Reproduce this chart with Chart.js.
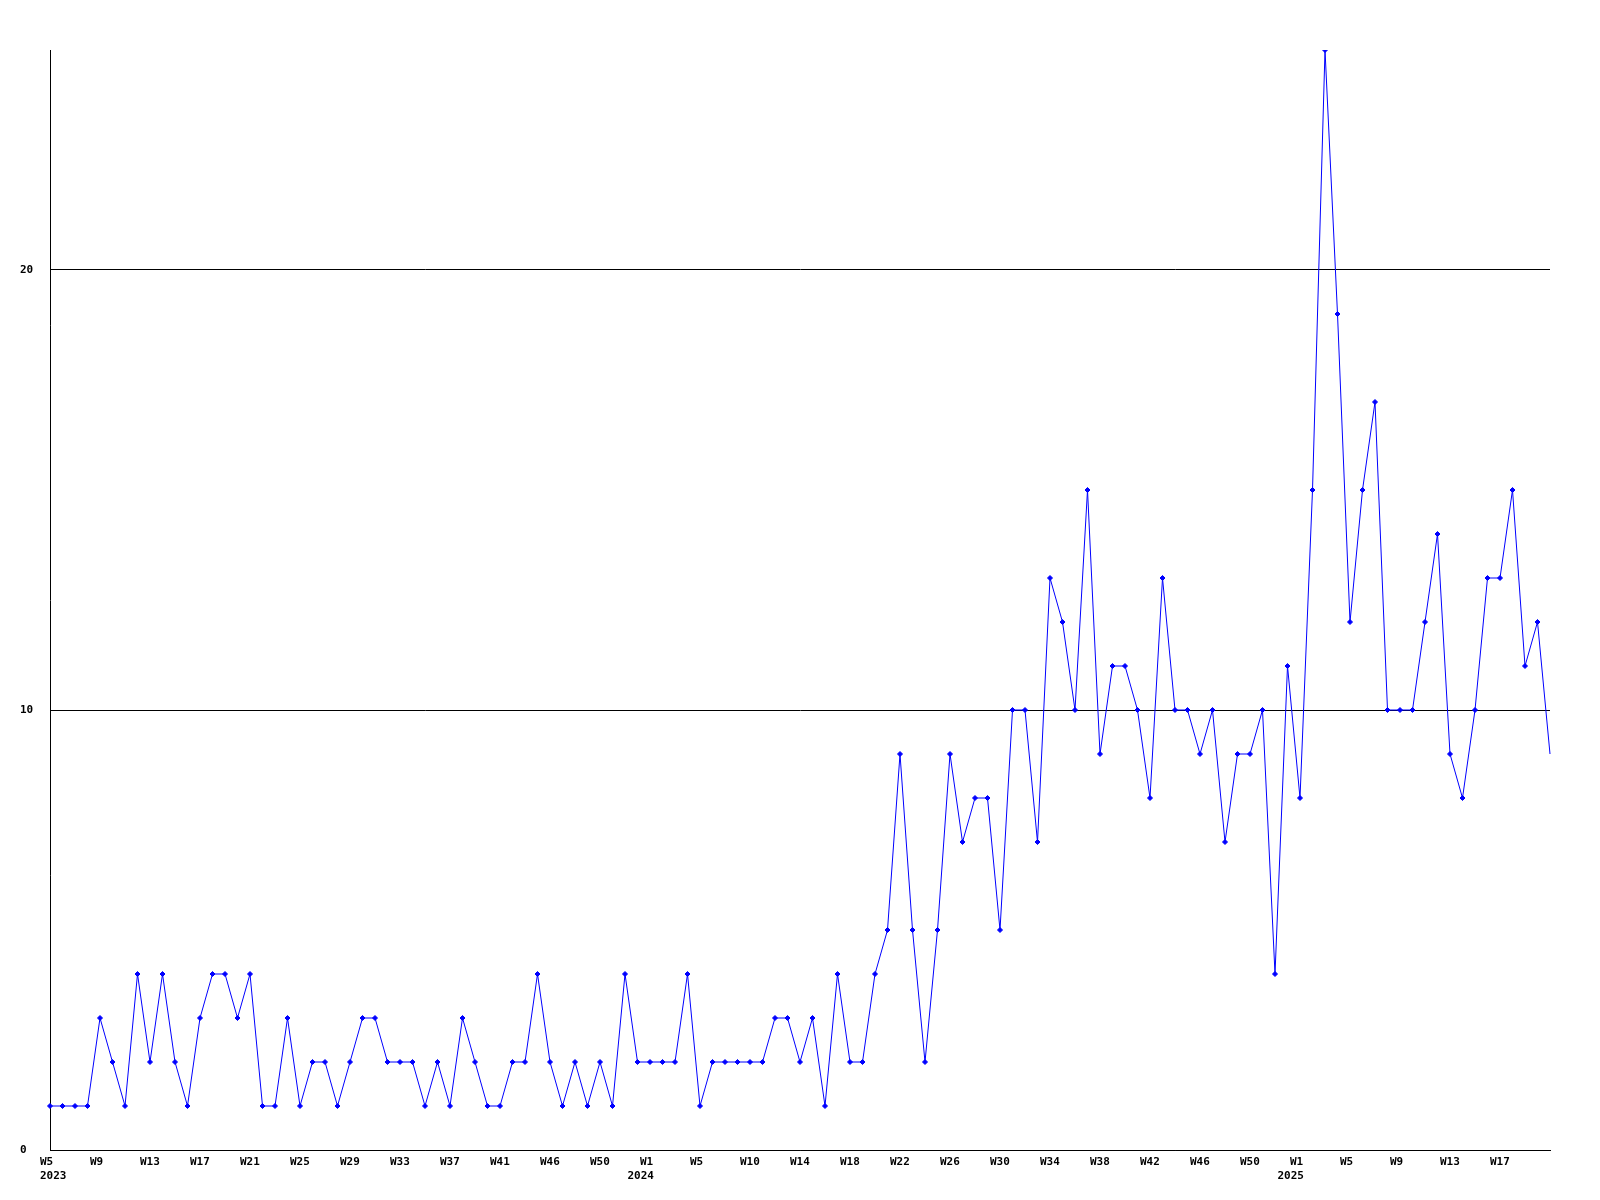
<!DOCTYPE html>
<html>
<head>
<meta charset="utf-8">
<script src="https://cdn.jsdelivr.net/npm/chart.js@4/dist/chart.umd.min.js"></script>
<style>
  html, body { margin: 0; padding: 0; background: #ffffff; }
  #wrap { width: 1600px; height: 1200px; }
</style>
</head>
<body>
<div id="wrap"><canvas id="c" width="1600" height="1200"></canvas></div>
<script>
// Weekly counts, W5 2023 .. W21 2025 (one value per week)
const values = [
  1, 1, 1, 1, 3, 2, 1, 4, 2, 4,
  2, 1, 3, 4, 4, 3, 4, 1, 1, 3,
  1, 2, 2, 1, 2, 3, 3, 2, 2, 2,
  1, 2, 1, 3, 2, 1, 1, 2, 2, 4,
  2, 1, 2, 1, 2, 1, 4, 2, 2, 2,
  2, 4, 1, 2, 2, 2, 2, 2, 3, 3,
  2, 3, 1, 4, 2, 2, 4, 5, 9, 5,
  2, 5, 9, 7, 8, 8, 5, 10, 10, 7,
  13, 12, 10, 15, 9, 11, 11, 10, 8, 13,
  10, 10, 9, 10, 7, 9, 9, 10, 4, 11,
  8, 15, 25, 19, 12, 15, 17, 10, 10, 10,
  12, 14, 9, 8, 10, 13, 13, 15, 11, 12,
  9
];

// Week tick labels, one every fourth week
const weekTickLabels = [
  'W5', 'W9', 'W13', 'W17', 'W21', 'W25', 'W29', 'W33', 'W37', 'W41',
  'W46', 'W50', 'W1', 'W5', 'W10', 'W14', 'W18', 'W22', 'W26', 'W30',
  'W34', 'W38', 'W42', 'W46', 'W50', 'W1', 'W5', 'W9', 'W13', 'W17'
];

// Year tick labels and the week index they sit under
const yearTickLabels = ['2023', '2024', '2025'];
const yearTickIndex = [0, 47, 99];

// Y axis tick values
const yTickValues = [0, 10, 20];
const yMax = 25;

const categories = values.map((_, i) => String(i));

const FONT = { family: "'DejaVu Sans Mono', monospace", size: 11, weight: 'bold', lineHeight: 1.2 };

new Chart(document.getElementById('c'), {
  type: 'line',
  data: {
    labels: categories,
    datasets: [{
      data: values,
      borderColor: '#0000ff',
      backgroundColor: '#0000ff',
      borderWidth: 1,
      tension: 0,
      fill: false,
      pointStyle: 'rectRot',
      pointRadius: (ctx) => (ctx.dataIndex === values.length - 1 ? 0 : 2.5),
      pointBorderWidth: 1,
      pointBackgroundColor: '#0000ff',
      pointBorderColor: '#0000ff',
      xAxisID: 'x',
      yAxisID: 'y'
    }]
  },
  options: {
    responsive: false,
    animation: false,
    devicePixelRatio: 1,
    layout: { padding: { top: 50, right: 50, left: 20, bottom: 0 } },
    plugins: { legend: { display: false }, title: { display: false }, tooltip: { enabled: false } },
    scales: {
      x: {
        type: 'category',
        position: 'bottom',
        offset: false,
        grid: { display: false, drawTicks: false },
        border: { display: true, color: '#000000', width: 1 },
        afterFit: (s) => { s.height = 20; },
        ticks: {
          autoSkip: false,
          maxRotation: 0,
          minRotation: 0,
          align: 'start',
          labelOffset: -10,
          padding: 6,
          color: '#000000',
          font: FONT,
          callback: (val, i) => (i % 4 === 0 ? (weekTickLabels[i / 4] ?? '') : '')
        }
      },
      x2: {
        type: 'category',
        position: 'bottom',
        labels: categories,
        offset: false,
        grid: { display: false, drawTicks: false },
        border: { display: false },
        afterFit: (s) => { s.height = 30; },
        ticks: {
          autoSkip: false,
          maxRotation: 0,
          minRotation: 0,
          align: 'start',
          labelOffset: -10,
          padding: 0,
          color: '#000000',
          font: FONT,
          callback: (val, i) => {
            const k = yearTickIndex.indexOf(i);
            return k >= 0 ? yearTickLabels[k] : '';
          }
        }
      },
      y: {
        type: 'linear',
        position: 'left',
        min: 0,
        max: yMax,
        afterBuildTicks: (s) => { s.ticks = yTickValues.map(v => ({ value: v })); },
        afterFit: (s) => { s.width = 30; },
        grid: { display: true, color: '#000000', lineWidth: 1, drawTicks: false },
        border: { display: true, color: '#000000', width: 1 },
        ticks: {
          crossAlign: 'far',
          padding: 0,
          color: '#000000',
          font: FONT
        }
      }
    }
  }
});
</script>
</body>
</html>
